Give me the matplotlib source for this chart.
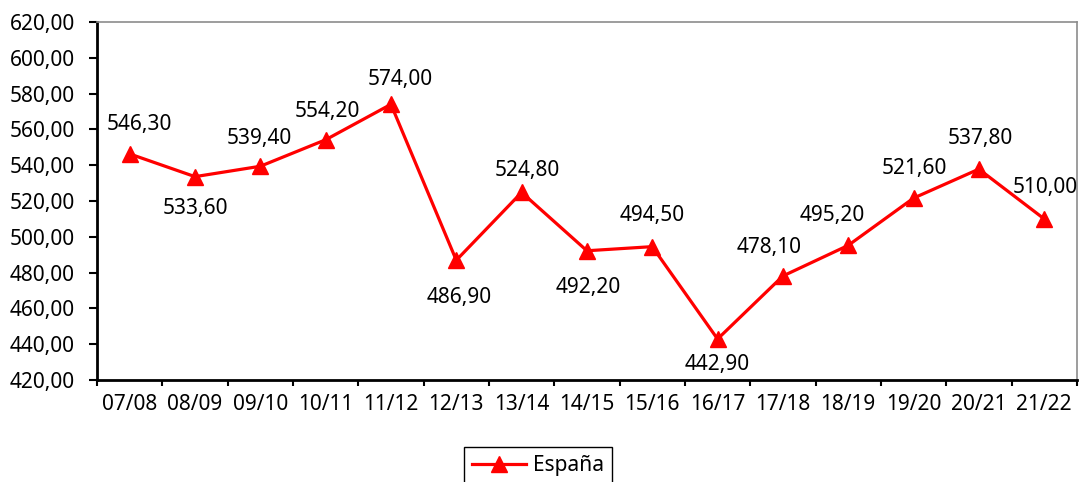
import matplotlib
matplotlib.use("Agg")
import matplotlib.pyplot as plt
from matplotlib.ticker import FuncFormatter, MultipleLocator
import numpy as np

# school years and Spain's score
cursos = ["07/08", "08/09", "09/10", "10/11", "11/12", "12/13", "13/14", "14/15",
          "15/16", "16/17", "17/18", "18/19", "19/20", "20/21", "21/22"]
espana = [546.30, 533.60, 539.40, 554.20, 574.00, 486.90, 524.80, 492.20,
          494.50, 442.90, 478.10, 495.20, 521.60, 537.80, 510.00]

# where each value label sits relative to its marker (pixels)
desp_x = [10, 0, -1, 2, 9, 3, 6, 1, 0, 0, -14, -16, 1, 1, 1]
desp_y = [29, -32, 28, 28, 25, -37, 22, -37, 31, -25, 29, 30, 30, 31, 31]

def coma(v, pos=None):
    return "{:.2f}".format(v).replace(".", ",")

plt.rcParams["font.family"] = ["Noto Sans", "DejaVu Sans"]
fs = 15
fig = plt.figure(figsize=(10.79, 4.82), dpi=100)
ax = fig.add_axes([0.0899, 0.2116, 0.9081, 0.7428])

x = np.arange(len(cursos))
ax.plot(x, espana, color="#ff0000", lw=2.3, marker="^", ms=11,
        markeredgecolor="#ff0000", label="España", zorder=5)

for xi, v, dx, dy in zip(x, espana, desp_x, desp_y):
    ax.annotate(coma(v), (xi, v), xytext=(dx, dy), textcoords="offset pixels",
                ha="center", va="center", fontsize=fs, color="black")

ax.set_xlim(-0.5, len(cursos) - 0.5)
ax.set_ylim(420, 620)
ax.yaxis.set_major_locator(MultipleLocator(20))
ax.yaxis.set_major_formatter(FuncFormatter(coma))

# category labels centred, ticks on the boundaries
ax.set_xticks(x)
ax.set_xticklabels(cursos)
ax.set_xticks(np.arange(-0.5, len(cursos)), minor=True)
ax.tick_params(axis="x", which="major", length=0, pad=10, labelsize=fs)
ax.tick_params(axis="x", which="minor", length=4.5, width=1.5, direction="out")
ax.tick_params(axis="y", length=6, width=1.5, direction="out", pad=10, labelsize=fs)

for s in ["left", "bottom"]:
    ax.spines[s].set_linewidth(2)
    ax.spines[s].set_color("black")
for s in ["top", "right"]:
    ax.spines[s].set_linewidth(1.2)
    ax.spines[s].set_color("#8c8c8c")

leg = fig.legend(loc="upper center", bbox_to_anchor=(0.4986, 0.0726),
                 bbox_transform=fig.transFigure, fontsize=fs, fancybox=False,
                 framealpha=1, edgecolor="black", handlelength=2.6,
                 borderpad=0.4, handletextpad=0.3, borderaxespad=0)
leg.get_frame().set_linewidth(1.0)

fig.savefig("out.png", dpi=100)
